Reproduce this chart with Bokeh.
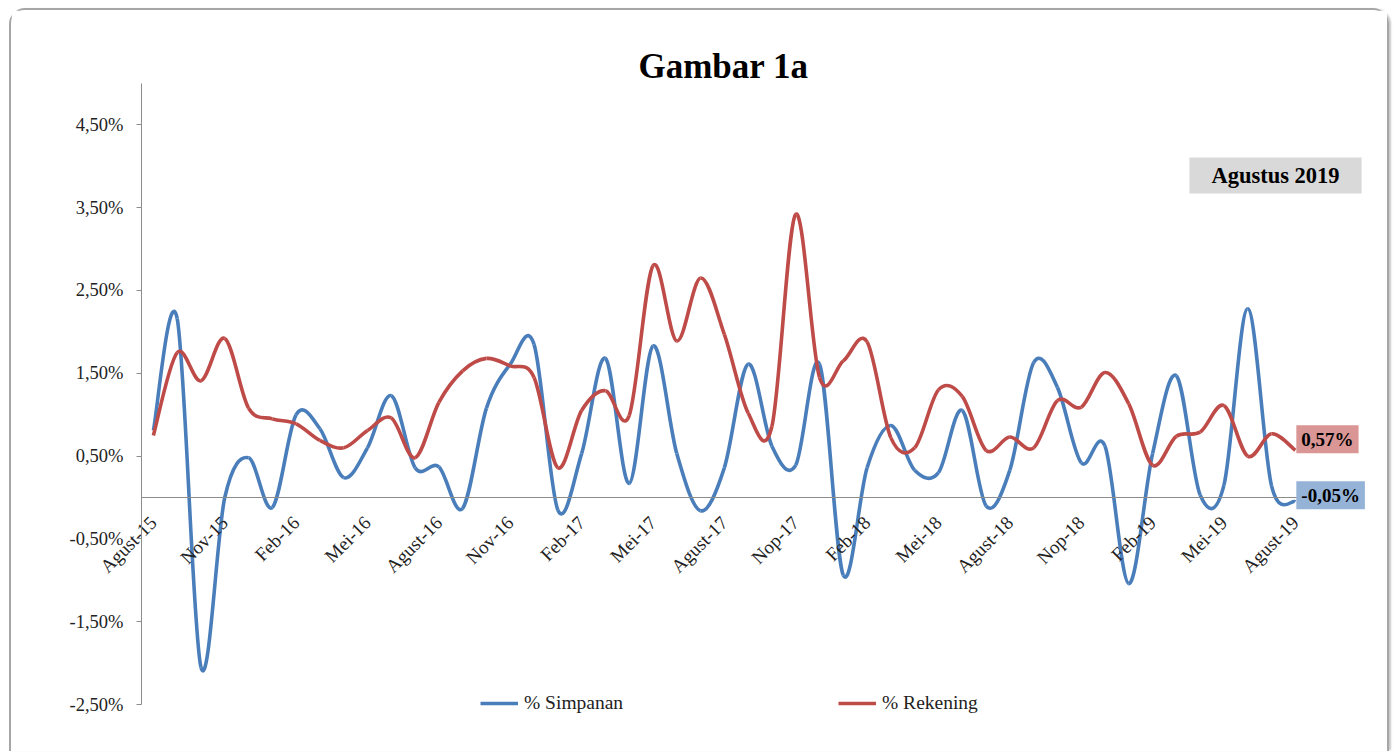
import numpy as np
from bokeh.plotting import figure
from bokeh.models import FixedTicker, Label, Legend, LegendItem, ColumnDataSource, Range1d
from bokeh.embed import file_html
from bokeh.resources import INLINE

# ---------------- data ----------------
title_text = "Gambar 1a"
period_label = "Agustus 2019"
series_names = ["% Simpanan", "% Rekening"]
tick_labels = ["Agust-15", "Nov-15", "Feb-16", "Mei-16", "Agust-16", "Nov-16",
               "Feb-17", "Mei-17", "Agust-17", "Nop-17", "Feb-18", "Mei-18",
               "Agust-18", "Nop-18", "Feb-19", "Mei-19", "Agust-19"]
tick_step = 3  # months between tick labels
simpanan = [0.81, 2.16, -2.05, 0.00, 0.48, -0.12, 1.00, 0.83, 0.24, 0.60,
            1.23, 0.36, 0.37, -0.13, 1.08, 1.61, 1.85, -0.15, 0.53, 1.68,
            0.17, 1.83, 0.53, -0.16, 0.36, 1.61, 0.62, 0.39, 1.61, -0.94,
            0.36, 0.87, 0.33, 0.30, 1.05, -0.10, 0.33, 1.63, 1.33, 0.42,
            0.62, -1.04, 0.53, 1.47, 0.03, 0.15, 2.28, 0.14, -0.05]
rekening = [0.75, 1.75, 1.41, 1.92, 1.08, 0.95, 0.89, 0.69, 0.60, 0.81,
            0.96, 0.48, 1.15, 1.53, 1.68, 1.59, 1.45, 0.36, 1.05, 1.29,
            0.99, 2.80, 1.89, 2.65, 1.97, 1.02, 0.86, 3.42, 1.45, 1.65,
            1.88, 0.72, 0.60, 1.30, 1.22, 0.57, 0.73, 0.60, 1.17, 1.09,
            1.51, 1.13, 0.39, 0.74, 0.79, 1.11, 0.50, 0.77, 0.57]
y_ticks = [-2.5, -1.5, -0.5, 0.5, 1.5, 2.5, 3.5, 4.5]
y_axis_bounds = (-2.5, 5.0)

FONT = "Liberation Serif"
BLUE = "#4A7EBB"
RED = "#BE4B48"


def smooth_source(vals):
    """Bezier segments through the data points (Excel-style smoothed line)."""
    y = np.asarray(vals, dtype=float)
    x = np.arange(len(y), dtype=float)
    xp = np.concatenate([[x[0]], x, [x[-1]]])
    yp = np.concatenate([[y[0]], y, [y[-1]]])
    i = np.arange(len(y) - 1)
    return ColumnDataSource(dict(
        x0=x[i], y0=y[i], x1=x[i + 1], y1=y[i + 1],
        cx0=x[i] + (xp[i + 2] - xp[i]) / 6.0,
        cy0=y[i] + (yp[i + 2] - yp[i]) / 6.0,
        cx1=x[i + 1] - (xp[i + 3] - xp[i + 1]) / 6.0,
        cy1=y[i + 1] - (yp[i + 3] - yp[i + 1]) / 6.0,
    ))


n = len(simpanan)
p = figure(width=1380, height=743, output_backend="svg", toolbar_location=None,
           x_range=Range1d(-5.586, 51.37), y_range=Range1d(-2.7536, 5.640),
           min_border_left=9, min_border_right=16, min_border_top=20, min_border_bottom=28,
           styles={"margin": "8px 0 0 9px",
                   "border": "2px solid #A6A6A6", "border-bottom": "none",
                   "border-radius": "16px 16px 0 0",
                   "box-shadow": "3px 0px 2px -1px #C8C8C8"})
p.background_fill_color = "white"
p.border_fill_color = "white"
p.outline_line_color = None
p.grid.visible = False

# y axis (drawn at the left end of the category range)
yax = p.yaxis[0]
yax.fixed_location = -0.5
yax.bounds = y_axis_bounds
yax.ticker = FixedTicker(ticks=y_ticks)
yax.major_label_overrides = {v: f"{v:.2f}%".replace(".", ",") for v in y_ticks}
yax.axis_line_color = "#8C8C8C"
yax.major_tick_line_color = "#8C8C8C"
yax.major_tick_in = 0
yax.major_tick_out = 5
yax.minor_tick_line_color = None
yax.major_label_text_font = FONT
yax.major_label_text_font_size = "18.5px"
yax.major_label_text_color = "#222222"
yax.major_label_standoff = 13

# x axis at zero
xax = p.xaxis[0]
xax.fixed_location = 0
xax.bounds = (-0.5, n - 0.5)
ticks_x = [i * tick_step for i in range(len(tick_labels))]
xax.ticker = FixedTicker(ticks=ticks_x)
xax.major_label_overrides = {t: lab for t, lab in zip(ticks_x, tick_labels)}
xax.major_label_orientation = np.pi / 4
xax.axis_line_color = "#8C8C8C"
xax.major_tick_line_color = None
xax.minor_tick_line_color = None
xax.major_label_text_font = FONT
xax.major_label_text_font_size = "19px"
xax.major_label_text_color = "#222222"
xax.major_label_standoff = 16

# lines
r1 = p.bezier(x0="x0", y0="y0", x1="x1", y1="y1", cx0="cx0", cy0="cy0", cx1="cx1", cy1="cy1",
              source=smooth_source(simpanan), line_color=BLUE, line_width=3.6)
r2 = p.bezier(x0="x0", y0="y0", x1="x1", y1="y1", cx0="cx0", cy0="cy0", cx1="cx1", cy1="cy1",
              source=smooth_source(rekening), line_color=RED, line_width=3.6)

legend = Legend(items=[LegendItem(label=series_names[0], renderers=[r1]),
                       LegendItem(label=series_names[1], renderers=[r2])],
                orientation="horizontal", location=(460, 11),
                glyph_width=38, glyph_height=22, label_height=22,
                label_standoff=6, label_width=120,
                spacing=194, padding=0, margin=0, border_line_color=None,
                background_fill_alpha=0,
                label_text_font=FONT, label_text_font_size="19.5px", label_text_color="#222222")
p.add_layout(legend, "center")

# title
p.add_layout(Label(x=703, y=659, x_units="screen", y_units="screen", text=title_text,
                   text_align="center", text_baseline="middle",
                   text_font=FONT, text_font_size="35px", text_font_style="bold",
                   text_color="black"))

# value labels at last point
fmt = lambda v: f"{v:.2f}%".replace(".", ",")
p.add_layout(Label(x=n - 1, y=rekening[-1], x_offset=1, y_offset=11, text=fmt(rekening[-1]),
                   text_align="left", text_baseline="middle",
                   text_font=FONT, text_font_size="19px", text_font_style="bold",
                   text_color="black", background_fill_color="#DA9694",
                   padding=[5, 5, 4, 3]))
p.add_layout(Label(x=n - 1, y=simpanan[-1], x_offset=1, y_offset=6.5, text=fmt(simpanan[-1]),
                   text_align="left", text_baseline="middle",
                   text_font=FONT, text_font_size="19px", text_font_style="bold",
                   text_color="black", background_fill_color="#95B3D7",
                   padding=[5, 5, 4, 3]))

# period box
p.add_layout(Label(x=1255, y=550, x_units="screen", y_units="screen", text=period_label,
                   text_align="center", text_baseline="middle",
                   text_font=FONT, text_font_size="22.5px", text_font_style="bold",
                   text_color="black", background_fill_color="#D9D9D9",
                   padding=[22, 22, 5, 6]))

open("out.html", "w").write(file_html(p, INLINE))
